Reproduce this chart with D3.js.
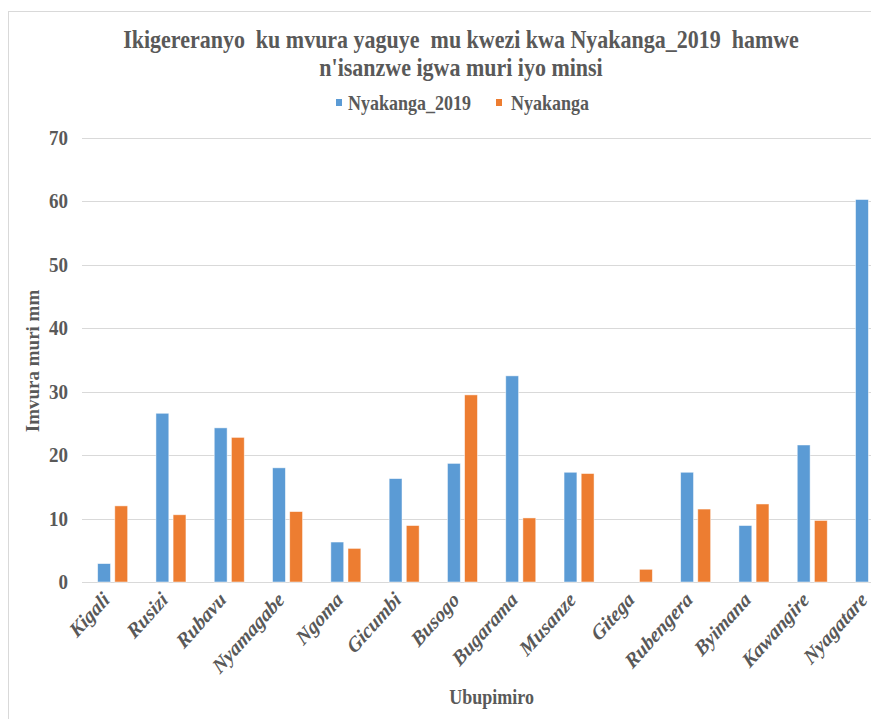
<!DOCTYPE html>
<html><head><meta charset="utf-8">
<script src="https://cdn.jsdelivr.net/npm/d3@7/dist/d3.min.js"></script>
<style>body{margin:0;background:#fff;overflow:hidden}svg{display:block}text{font-family:"Liberation Serif","Times New Roman",serif;font-weight:bold;fill:#595959}</style>
</head><body><svg id="c" width="871" height="719"></svg>
<script>
const categories = ["Kigali","Rusizi","Rubavu","Nyamagabe","Ngoma","Gicumbi","Busogo","Bugarama","Musanze","Gitega","Rubengera","Byimana","Kawangire","Nyagatare"];
const nyakanga2019 = [2.9,26.6,24.3,18.0,6.3,16.3,18.7,32.5,17.3,0,17.3,8.9,21.6,60.3];
const nyakanga = [12.0,10.6,22.8,11.1,5.3,8.9,29.5,10.1,17.1,2.0,11.5,12.3,9.7,null];
const seriesNames = ["Nyakanga_2019","Nyakanga"];
const seriesColors = ["#5B9BD5","#ED7D31"];
const yTicks = [0,10,20,30,40,50,60,70];
const titleLines = ["Ikigereranyo  ku mvura yaguye  mu kwezi kwa Nyakanga_2019  hamwe","n'isanzwe igwa muri iyo minsi"];

const svg = d3.select("#c");
const cx = 461;
const SY = 1.12;
svg.append("rect").attr("x",8.5).attr("y",11.5).attr("width",1000).attr("height",1000)
  .attr("fill","#fff").attr("stroke","#d9d9d9");

const plotL = 83.5, step = 58.3, plotR = plotL + step*categories.length;
const x0 = d3.scaleBand().domain(categories).range([plotL, plotR]).padding(0);
const x1 = d3.scaleBand().domain(seriesNames).range([-15,15]).paddingInner(0.25);
const y = d3.scaleLinear().domain([0,70]).range([582,138]);

// gridlines
svg.append("g").selectAll("line").data(yTicks).join("line")
  .attr("x1",82).attr("x2",plotR).attr("y1",d=>Math.round(y(d))+0.5).attr("y2",d=>Math.round(y(d))+0.5)
  .attr("stroke","#d9d9d9").attr("stroke-width",1);

// y tick labels
svg.append("g").selectAll("text").data(yTicks).join("text")
  .attr("transform",d=>`translate(68,${y(d)+7}) scale(1,${SY})`).attr("text-anchor","end")
  .style("font-size","19px").text(d=>d);

// bars
const data = [nyakanga2019, nyakanga];
data.forEach((vals,si)=>{
  svg.append("g").selectAll("rect").data(categories.map((c,i)=>({c,v:vals[i]})).filter(d=>d.v!=null && d.v>0)).join("rect")
    .attr("x",d=>x0(d.c)+x0.bandwidth()/2+x1(seriesNames[si]))
    .attr("width",x1.bandwidth())
    .attr("y",d=>y(d.v)).attr("height",d=>y(0)-y(d.v))
    .attr("fill",seriesColors[si]).attr("stroke","#fff").attr("stroke-opacity",0.6).attr("stroke-width",0.8);
});

// x labels
svg.append("g").selectAll("text").data(categories).join("text")
  .attr("transform",d=>`translate(${x0(d)+x0.bandwidth()/2-2},${601}) scale(1,${SY}) rotate(-45)`)
  .attr("text-anchor","end").style("font-size","19px").style("font-style","italic").text(d=>d);

// title
svg.append("g").selectAll("text").data(titleLines).join("text")
  .attr("transform",(d,i)=>`translate(${cx},${48+i*28}) scale(1,${SY})`).attr("text-anchor","middle")
  .style("font-size","22px").style("white-space","pre").text(d=>d);

// legend
const leg = [{x:336,tx:348},{x:496,tx:511}];
seriesNames.forEach((s,i)=>{
  svg.append("rect").attr("x",leg[i].x).attr("y",99).attr("width",6).attr("height",7).attr("fill",seriesColors[i]);
  svg.append("text").attr("transform",`translate(${leg[i].tx},110) scale(1,${SY})`).style("font-size","18px").text(s);
});

// axis titles
svg.append("text").attr("transform","translate(39,361) scale(1,1) rotate(-90)").attr("text-anchor","middle")
  .style("font-size","19px").text("Imvura muri mm");
svg.append("text").attr("transform",`translate(${(plotL+plotR)/2},704) scale(1,${SY})`).attr("text-anchor","middle")
  .style("font-size","18px").text("Ubupimiro");
</script></body></html>
